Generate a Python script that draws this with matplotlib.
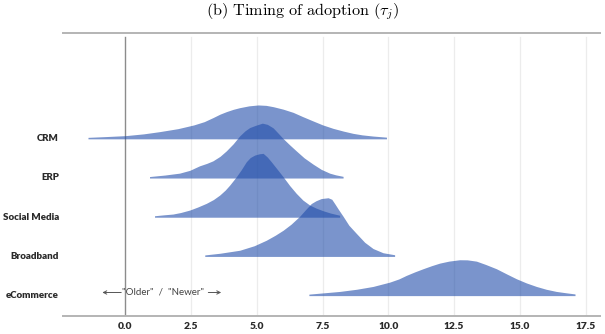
import matplotlib
matplotlib.use("Agg")
import matplotlib.pyplot as plt
import numpy as np

plt.rcParams['mathtext.fontset'] = 'cm'

# ---------------- data ----------------
categories = ["CRM", "ERP", "Social Media", "Broadband", "eCommerce"]

crm_x = [-1.42, -0.8, 0.0, 0.7, 1.3, 2.0, 2.6, 3.0, 3.33, 3.6, 3.84, 4.1, 4.35, 4.7,
         5.05, 5.35, 5.62, 6.0, 6.38, 6.75, 7.14, 7.5, 7.9, 8.3, 8.66, 9.0, 9.42, 9.93]
crm_h = [0.3, 1.0, 2.0, 3.8, 6.0, 9.0, 12.7, 16, 20, 23.5, 26, 28.3, 30, 31.8,
         32.7, 32.3, 31, 28.5, 25.3, 21, 16.7, 12.8, 9.3, 6.5, 4.3, 2.8, 1.6, 0.5]

erp_x = [0.92, 1.5, 2.06, 2.45, 2.82, 3.1, 3.33, 3.6, 3.84, 4.1, 4.35, 4.55, 4.73, 4.95,
         5.21, 5.4, 5.62, 5.8, 6.0, 6.25, 6.5, 6.8, 7.14, 7.45, 7.77, 8.0, 8.28]
erp_h = [0.3, 1.8, 3.7, 6.5, 11, 13.5, 16, 20.5, 26, 33, 41, 46, 49.3, 51.5,
         53.7, 52.5, 49, 44, 38.3, 32, 26, 19, 12.7, 7.5, 3.7, 2, 0.5]

sm_x = [1.11, 1.5, 1.81, 2.1, 2.45, 2.75, 3.08, 3.35, 3.59, 3.8, 3.97, 4.22, 4.4, 4.6,
        4.75, 4.92, 5.1, 5.24, 5.4, 5.55, 5.8, 6.0, 6.25, 6.5, 6.75, 7.01, 7.25, 7.52,
        7.8, 8.15]
sm_h = [0.3, 1.3, 2.0, 3.5, 6, 9, 12.7, 16.5, 21, 26, 31, 39.3, 46, 54.3,
        58.5, 61, 62.3, 62.7, 59, 54.3, 46, 39.3, 30.5, 22.7, 16, 11, 8, 5.3,
        3, 0.8]

bb_x = [3.02, 3.6, 4.35, 4.9, 5.36, 5.7, 6.0, 6.3, 6.63, 6.85, 7.07, 7.25, 7.45, 7.71,
        7.85, 7.96, 8.1, 8.28, 8.5, 8.79, 9.1, 9.42, 9.8, 10.24]
bb_h = [0.3, 2, 5, 9.5, 15, 20, 25, 31, 39, 45.5, 51.7, 54.5, 56.7, 57.5,
        56, 51.7, 46, 39, 30, 21.7, 13, 6.7, 2.5, 0.5]

ec_x = [6.98, 7.5, 8.15, 8.8, 9.42, 10.05, 10.4, 10.68, 11.0, 11.32, 11.65, 11.95, 12.3,
        12.71, 13.0, 13.35, 13.7, 14.11, 14.5, 14.87, 15.25, 15.63, 16.0, 16.39, 16.8, 17.1]
ec_h = [0.3, 1.5, 3, 5.2, 8, 12.3, 15.5, 19, 22.5, 25.7, 28.8, 31.3, 33.3,
        34.7, 34.6, 33.3, 30, 25.7, 20.5, 15.7, 11.5, 8, 5.2, 3, 1.5, 0.5]

xticks = [0.0, 2.5, 5.0, 7.5, 10.0, 12.5, 15.0, 17.5]
xtick_labels = ["0.0", "2.5", "5.0", "7.5", "10.0", "12.5", "15.0", "17.5"]

ridges = [(crm_x, crm_h), (erp_x, erp_h), (sm_x, sm_h), (bb_x, bb_h), (ec_x, ec_h)]

# ---------------- figure ----------------
W, H = 605, 334
fig = plt.figure(figsize=(W / 100, H / 100), dpi=100)
ax_l, ax_r, ax_t, ax_b = 63, 600, 33, 316
ax = fig.add_axes([ax_l / W, 1 - ax_b / H, (ax_r - ax_l) / W, (ax_b - ax_t) / H])

ax.set_xlim(-2.37, 18.05)
ax.set_ylim(-0.55, 6.67)

height_scale = 1 / 39.2
fill_color = "#214DAA"
n = len(categories)
for i, (cat, (xs, hs)) in enumerate(zip(categories, ridges)):
    y0 = n - 1 - i
    xs = np.asarray(xs)
    hs = np.asarray(hs) * height_scale
    ax.fill_between(xs, y0 - 0.03, y0 + hs, color=fill_color, alpha=0.6,
                    linewidth=0, zorder=3 + i)

# grid lines
for t in xticks:
    if t == 0:
        ax.axvline(t, ymin=0, ymax=0.985, color="#8c8c8c", lw=1.0, zorder=2)
    else:
        ax.axvline(t, ymin=0, ymax=0.985, color="#ececec", lw=0.9, zorder=1)

ax.set_xticks(xticks)
ax.set_xticklabels(xtick_labels, fontfamily="Lato", fontweight="heavy",
                   fontsize=7.4, color="#2a2a2a")
ax.set_yticks([n - 1 - i for i in range(n)])
ax.set_yticklabels(categories, fontfamily="Lato", fontweight="heavy",
                   fontsize=7, color="#2a2a2a")
ax.tick_params(axis="both", length=0)
ax.tick_params(axis="x", pad=4)
ax.tick_params(axis="y", pad=3)

for s in ["left", "right"]:
    ax.spines[s].set_visible(False)
for s in ["top", "bottom"]:
    ax.spines[s].set_color("#b4b4b4")
    ax.spines[s].set_linewidth(1.4)

# "Older" / "Newer" annotation
ax.text(1.45, 0.05, '"Older"  /  "Newer"', ha="center", va="center",
        fontfamily="Lato", fontsize=7, color="#444444", zorder=10)
ax.annotate("", xy=(-0.98, 0.05), xytext=(-0.05, 0.05),
            arrowprops=dict(arrowstyle="->", color="#555555", lw=0.7,
                            mutation_scale=6))
ax.annotate("", xy=(3.75, 0.05), xytext=(3.05, 0.05),
            arrowprops=dict(arrowstyle="->", color="#555555", lw=0.7,
                            mutation_scale=6))

fig.text(302.5 / W, 1 - 11.5 / H,
         r"$\mathrm{(b)\ Timing\ of\ adoption\ (}\tau_j\mathrm{)}$",
         ha="center", va="center", fontsize=11.7)

fig.savefig("out.png", dpi=100)
